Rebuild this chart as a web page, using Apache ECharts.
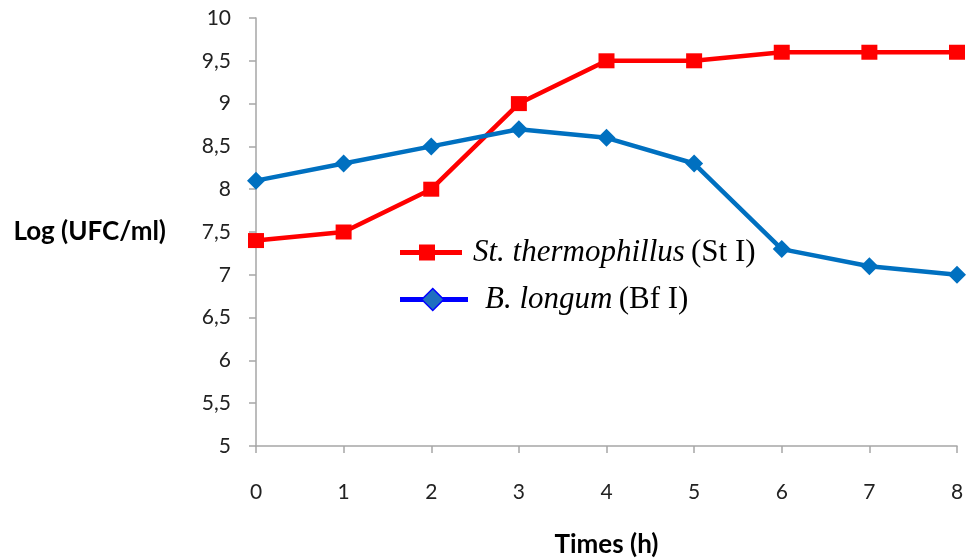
<!DOCTYPE html>
<html><head><meta charset="utf-8">
<script src="https://cdn.jsdelivr.net/npm/echarts@6/dist/echarts.min.js"></script>
<style>html,body{margin:0;padding:0;background:#fff}#c{width:966px;height:560px}</style>
</head><body><div id="c"></div>
<script>
const times = [0, 1, 2, 3, 4, 5, 6, 7, 8];
const stThermo = [7.4, 7.5, 8.0, 9.0, 9.5, 9.5, 9.6, 9.6, 9.6];
const bLongum = [8.1, 8.3, 8.5, 8.7, 8.6, 8.3, 7.3, 7.1, 7.0];
const seriesNames = ['St. thermophillus', 'B. longum'];
const seriesTags = ['(St I)', '(Bf I)'];

const chart = echarts.init(document.getElementById('c'));
const axisColor = '#a6a6a6';
const BOUNDS = 'M0,0 L0,0 M68,22 L68,22 ';
function legendFormatter(name) {
  const i = seriesNames.indexOf(name);
  return '{a' + i + '|' + name + '}{n|\u2009' + seriesTags[i] + '}';
}
function legendText(col) {
  return {
    color: col,
    rich: {
      a0: {fontFamily: 'Liberation Serif', fontStyle: 'italic', fontSize: 31, color: col, lineHeight: 26},
      a1: {fontFamily: 'Liberation Serif', fontStyle: 'italic', fontSize: 31, color: col, lineHeight: 26, padding: [0, 0, 0, 12]},
      n: {fontFamily: 'Liberation Serif', fontSize: 31, color: col, lineHeight: 26}
    }
  };
}
const legendBase = {
  orient: 'vertical', left: 400, top: 237, padding: 0, itemGap: 16,
  itemWidth: 68, itemHeight: 22, selectedMode: false,
  formatter: legendFormatter
};
chart.setOption({
  animation: false,
  grid: {left: 256, right: 9, top: 18, bottom: 114, outerBoundsMode: 'none', containLabel: false},
  xAxis: {
    type: 'value', min: 0, max: 8, interval: 1,
    name: 'Times (h)', nameLocation: 'middle', nameGap: 86,
    nameTextStyle: {fontFamily: 'Lato', fontWeight: 'bold', fontSize: 26, color: '#000'},
    axisLine: {lineStyle: {color: axisColor, width: 1.5}},
    axisTick: {show: true, length: 7, lineStyle: {color: axisColor, width: 1.5}},
    axisLabel: {margin: 36, fontFamily: 'Lato', fontSize: 21, color: '#222'},
    splitLine: {show: false}
  },
  yAxis: {
    type: 'value', min: 5, max: 10, interval: 0.5,
    name: 'Log (UFC/ml)', nameLocation: 'middle', nameRotate: 0, nameGap: 90,
    nameTextStyle: {fontFamily: 'Lato', fontWeight: 'bold', fontSize: 26, color: '#000', align: 'right'},
    axisLine: {show: true, lineStyle: {color: axisColor, width: 1.5}},
    axisTick: {show: true, length: 7, lineStyle: {color: axisColor, width: 1.5}},
    axisLabel: {margin: 25, fontFamily: 'Lato', fontSize: 21, color: '#222',
      formatter: v => String(v).replace('.', ',')},
    splitLine: {show: false}
  },
  legend: [
    Object.assign({}, legendBase, {
      data: [
        {name: seriesNames[0], icon: 'path://' + BOUNDS + 'M0,8.5 H62 V13.5 H0 Z M19,3 H35 V19 H19 Z',
         itemStyle: {color: '#ff0000', borderWidth: 0}},
        {name: seriesNames[1], icon: 'path://' + BOUNDS + 'M0,8.5 H68 V13.5 H0 Z',
         itemStyle: {color: '#0000ff', borderWidth: 0}}
      ],
      textStyle: legendText('#000')
    }),
    Object.assign({}, legendBase, {
      z: 5,
      data: [
        {name: seriesNames[0], icon: 'path://' + BOUNDS,
         itemStyle: {color: 'rgba(0,0,0,0)', borderWidth: 0}},
        {name: seriesNames[1], icon: 'path://' + BOUNDS + 'M32,0 L43,11 L32,22 L21,11 Z',
         itemStyle: {color: '#1f6fc0', borderColor: '#0000ff', borderWidth: 1.5}}
      ],
      textStyle: legendText('rgba(0,0,0,0)')
    })
  ],
  series: [
    {name: seriesNames[0], type: 'line', data: times.map((t, i) => [t, stThermo[i]]),
     symbol: 'rect', symbolSize: [16, 15], lineStyle: {color: '#ff0000', width: 4.5},
     itemStyle: {color: '#ff0000'}},
    {name: seriesNames[1], type: 'line', data: times.map((t, i) => [t, bLongum[i]]),
     symbol: 'diamond', symbolSize: 18, lineStyle: {color: '#0070c0', width: 4.5},
     itemStyle: {color: '#0070c0'}}
  ]
});
</script></body></html>
